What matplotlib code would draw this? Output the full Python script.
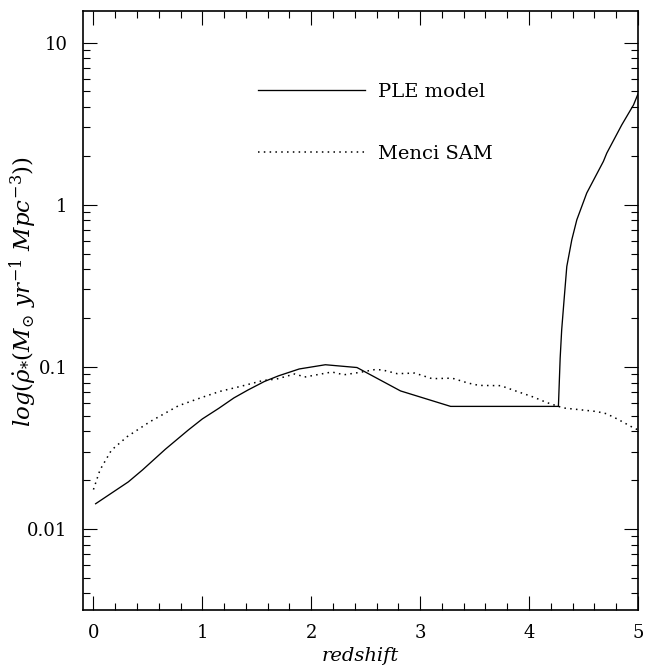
import matplotlib
matplotlib.use("Agg")
import matplotlib.pyplot as plt
from matplotlib.ticker import LogLocator, FixedLocator, FuncFormatter, MultipleLocator, NullFormatter

plt.rcParams['font.family'] = ['DejaVu Serif']
plt.rcParams['mathtext.fontset'] = 'dejavuserif'

# PLE model (solid)
ple_z = [0.02, 0.32, 0.45, 0.66, 0.87, 1.00, 1.15, 1.29, 1.42, 1.57, 1.70, 1.89, 2.13,
         2.42, 2.82, 3.28, 4.27, 4.286, 4.30, 4.322, 4.347, 4.393, 4.439, 4.53, 4.683,
         4.714, 4.852, 4.96, 5.00]
ple_sfr = [0.0143, 0.0195, 0.0231, 0.031, 0.0407, 0.0477, 0.0554, 0.0643, 0.072, 0.0812,
           0.088, 0.097, 0.103, 0.099, 0.071, 0.057, 0.057, 0.113, 0.169, 0.259, 0.416,
           0.608, 0.807, 1.18, 1.85, 2.08, 3.11, 4.13, 4.81]

# Menci SAM (dotted)
sam_z = [0.0, 0.06, 0.165, 0.31, 0.52, 0.78, 0.98, 1.16, 1.35, 1.56, 1.68, 1.85, 1.94,
         2.19, 2.30, 2.45, 2.58, 2.65, 2.79, 2.95, 3.11, 3.26, 3.31, 3.44, 3.54, 3.74,
         3.89, 4.04, 4.16, 4.27, 4.32, 4.62, 4.71, 4.81, 4.96, 5.0]
sam_sfr = [0.0175, 0.0231, 0.0306, 0.0371, 0.0459, 0.0575, 0.0642, 0.0705, 0.0757, 0.0824,
           0.084, 0.0904, 0.0865, 0.0929, 0.0893, 0.0925, 0.096, 0.0958, 0.0907, 0.0915,
           0.0845, 0.085, 0.0845, 0.0794, 0.0768, 0.0765, 0.0705, 0.0651, 0.0603, 0.057,
           0.0557, 0.053, 0.0514, 0.0477, 0.042, 0.0409]

ytick_vals = [0.01, 0.1, 1, 10]
ytick_labels = ['0.01', '0.1', '1', '10']
xtick_vals = [0, 1, 2, 3, 4, 5]

fig = plt.figure(figsize=(6.45, 6.67), dpi=100)
ax = fig.add_axes([0.128, 0.0855, 0.861, 0.898])

ax.plot(ple_z, ple_sfr, color='black', lw=0.95, label='PLE model')
ax.plot(sam_z, sam_sfr, color='black', lw=1.1, linestyle=(0, (1.0, 2.8)), label='Menci SAM')

ax.set_yscale('log')
ax.set_xlim(-0.1, 5.0)
ax.set_ylim(10 ** -2.5, 10 ** 1.195)

ax.yaxis.set_major_locator(FixedLocator(ytick_vals))
ax.yaxis.set_major_formatter(FuncFormatter(lambda v, p: ytick_labels[ytick_vals.index(v)] if v in ytick_vals else ''))
ax.yaxis.set_minor_locator(LogLocator(base=10, subs=[2, 3, 4, 5, 6, 7, 8, 9]))
ax.yaxis.set_minor_formatter(NullFormatter())
ax.xaxis.set_major_locator(FixedLocator(xtick_vals))
ax.xaxis.set_minor_locator(MultipleLocator(0.2))

ax.tick_params(which='both', direction='in', top=True, right=True, width=0.8, color='black')
ax.tick_params(which='major', length=10)
ax.tick_params(which='minor', length=5)
ax.tick_params(axis='y', which='major', pad=11, labelsize=13)
ax.tick_params(axis='x', which='major', pad=10, labelsize=13)
for s in ax.spines.values():
    s.set_linewidth(1.2)

ax.set_xlabel('redshift', fontsize=14, style='italic')
ax.xaxis.set_label_coords(0.5, -0.061)
ax.set_ylabel(r'$log(\dot{\rho}_{*}(M_{\odot}\ yr^{-1}\ Mpc^{-3}))$', fontsize=16.5)
ax.yaxis.set_label_coords(-0.078, 0.531)

ax.legend(loc='upper left', bbox_to_anchor=(0.3157, 0.8806), frameon=False, fontsize=14,
          handlelength=5.5, handletextpad=0.67, labelspacing=2.27, borderpad=0, borderaxespad=0)

fig.savefig('out.png', dpi=100)
